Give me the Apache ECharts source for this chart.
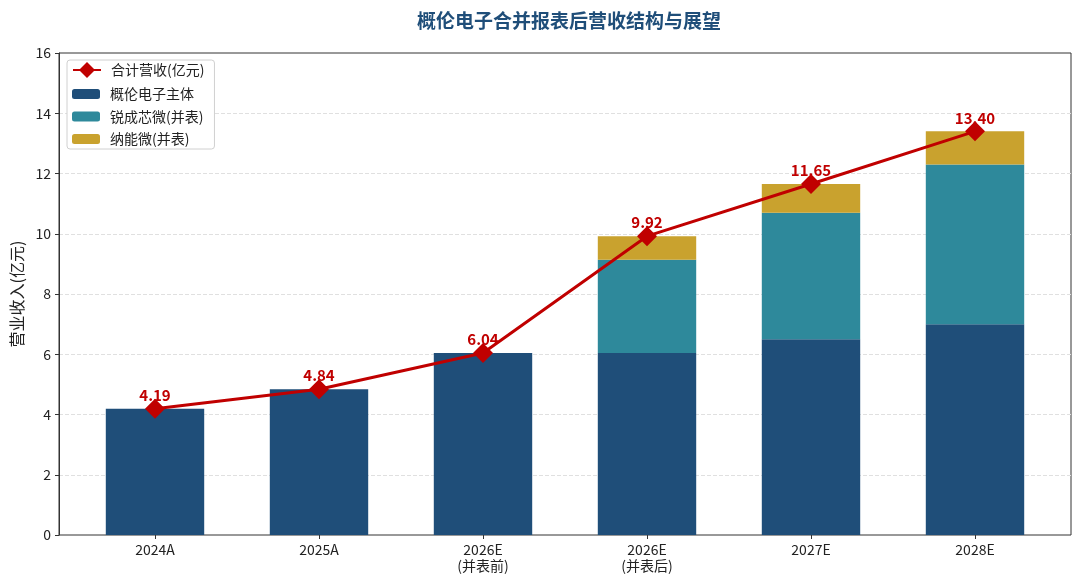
<!DOCTYPE html>
<html>
<head>
<meta charset="utf-8">
<script src="https://cdn.jsdelivr.net/npm/echarts@6/dist/echarts.min.js"></script>
<style>
  html, body { margin: 0; padding: 0; background: #fff; }
  #chart_show { width: 1080px; height: 585px; }
</style>
</head>
<body>
<div id="chart_show"></div>
<script>
// 年份
var aYears = ['2024A', '2025A', '2026E\n(并表前)', '2026E\n(并表后)', '2027E', '2028E'];
// 概伦电子主体
var aMain = [4.19, 4.84, 6.04, 6.04, 6.5, 7.0];
// 锐成芯微(并表)
var aRuicheng = [0, 0, 0, 3.1, 4.2, 5.3];
// 纳能微(并表)
var aNanneng = [0, 0, 0, 0.78, 0.95, 1.1];
// 合计营收(亿元)
var aTotal = [4.19, 4.84, 6.04, 9.92, 11.65, 13.40];

var sFont = '"Noto Sans CJK SC", sans-serif';

var oChart = echarts.init(document.getElementById('chart_show'));

var chartopt = {
    backgroundColor: '#fff',
    textStyle: { fontFamily: sFont },
    title: {
        text: '概伦电子合并报表后营收结构与展望',
        left: 564,
        textAlign: 'center',
        top: 6,
        textStyle: {
            fontSize: 19,
            fontWeight: 'bold',
            color: '#1f4e79',
            fontFamily: sFont
        }
    },
    legend: [{
        // 折线图例，带外框
        orient: 'vertical',
        left: 67,
        top: 60,
        padding: [2, 10, 71, 5],
        itemWidth: 28,
        itemHeight: 20,
        backgroundColor: '#fff',
        borderColor: '#d0d0d0',
        borderWidth: 1,
        borderRadius: 3,
        textStyle: { fontSize: 14, color: '#222', fontFamily: sFont, padding: [0, 0, 0, 5] },
        data: ['合计营收(亿元)']
    }, {
        // 柱子图例
        orient: 'vertical',
        left: 67,
        top: 86,
        z: 10,
        padding: [0, 0, 0, 5],
        itemGap: 6.5,
        itemWidth: 28,
        itemHeight: 10,
        textStyle: { fontSize: 14, lineHeight: 16, color: '#222', fontFamily: sFont, padding: [0, 0, 0, 5] },
        data: ['概伦电子主体', '锐成芯微(并表)', '纳能微(并表)']
    }],
    grid: [{
        // 外框和y轴
        left: 59,
        right: 9,
        top: 53,
        bottom: 50,
        show: true,
        borderColor: '#333',
        borderWidth: 1
    }, {
        // 柱子所在区域
        left: 73,
        right: 23,
        top: 53,
        bottom: 50
    }],
    xAxis: [{
        gridIndex: 0,
        type: 'value',
        show: false
    }, {
        gridIndex: 1,
        type: 'category',
        data: aYears,
        axisLine: { show: false },
        axisTick: { show: true, alignWithLabel: true, length: 4, lineStyle: { color: '#333' } },
        axisLabel: { fontSize: 14, color: '#222', lineHeight: 16, margin: 7 }
    }],
    yAxis: [{
        gridIndex: 0,
        type: 'value',
        min: 0,
        max: 16,
        interval: 2,
        name: '营业收入(亿元)',
        nameLocation: 'middle',
        nameGap: 34,
        nameTextStyle: { fontSize: 16, color: '#222', fontFamily: sFont },
        axisLine: { show: true, lineStyle: { color: '#333' } },
        axisTick: { show: true, length: 4, lineStyle: { color: '#333' } },
        axisLabel: { fontSize: 14, color: '#222', margin: 8 },
        splitLine: { show: true, showMinLine: false, showMaxLine: false, lineStyle: { type: 'dashed', color: '#e0e0e0' } }
    }, {
        gridIndex: 1,
        type: 'value',
        min: 0,
        max: 16,
        interval: 2,
        show: false,
        splitLine: { show: false }
    }],
    series: [{
        name: '概伦电子主体',
        type: 'bar',
        stack: 'rev',
        xAxisIndex: 1,
        yAxisIndex: 1,
        barWidth: '60%',
        itemStyle: { color: '#1f4e79' },
        data: aMain
    }, {
        name: '锐成芯微(并表)',
        type: 'bar',
        stack: 'rev',
        xAxisIndex: 1,
        yAxisIndex: 1,
        itemStyle: { color: '#2e899b' },
        data: aRuicheng
    }, {
        name: '纳能微(并表)',
        type: 'bar',
        stack: 'rev',
        xAxisIndex: 1,
        yAxisIndex: 1,
        itemStyle: { color: '#c9a22e' },
        data: aNanneng
    }, {
        name: '合计营收(亿元)',
        type: 'line',
        xAxisIndex: 1,
        yAxisIndex: 1,
        z: 5,
        symbol: 'diamond',
        symbolSize: 20,
        lineStyle: { color: '#c00000', width: 3 },
        itemStyle: { color: '#c00000' },
        label: {
            show: true,
            position: 'top',
            distance: -4,
            fontSize: 15,
            fontWeight: 'bold',
            color: '#c00000',
            formatter: function (p) { return p.value.toFixed(2); }
        },
        data: aTotal
    }]
};

oChart.setOption(chartopt);
</script>
</body>
</html>
